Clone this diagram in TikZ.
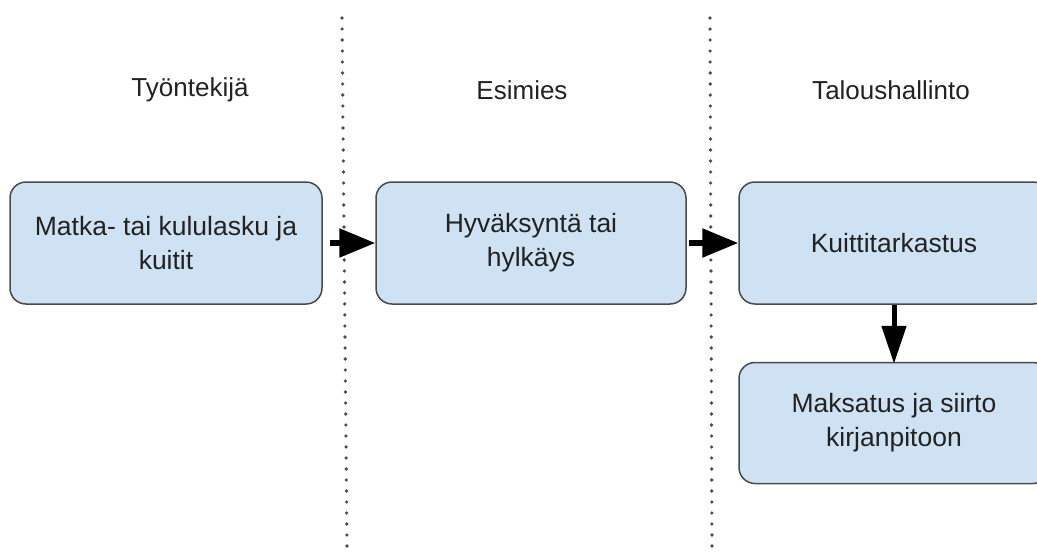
\documentclass[tikz,border=0pt]{standalone}
\usepackage{fontspec}
\setmainfont{Liberation Sans}
\usetikzlibrary{arrows.meta}
\definecolor{boxfill}{HTML}{CFE2F3}
\definecolor{boxline}{HTML}{4A4A4A}
\definecolor{txt}{HTML}{222222}
\begin{document}
\begin{tikzpicture}[x=1pt,y=-1pt,
  proc/.style={draw=boxline,line width=1.5pt,fill=boxfill,rounded corners=16pt,
    minimum width=#1,minimum height=122pt,align=center,text=txt,
    font=\fontsize{26.5}{34}\selectfont,inner sep=0pt},
  proc/.default=312pt,
  head/.style={font=\fontsize{26}{34}\selectfont,text=txt},
  lane/.style={line width=3.6pt,dash pattern=on 0pt off 11pt,line cap=round,draw=black!70},
  flow/.style={line width=5.5pt,-{Triangle[length=36pt,width=28pt]}},
  vflow/.style={line width=5pt,-{Triangle[length=38pt,width=24pt]}}]
\useasboundingbox (0,0) rectangle (1037,555);
\coordinate (l1t) at (342,18); \coordinate (l1b) at (347,548);
\coordinate (l2t) at (710,18); \coordinate (l2b) at (712,548);
\draw[lane] (l1t) -- (l1b);
\draw[lane] (l2t) -- (l2b);
\node[head] (h1) at (190,90) {Työntekijä};
\node[head] (h2) at (522,90) {Esimies};
\node[head] (h3) at (891,90) {Taloushallinto};
\node[proc] (b1) at (166,243) {Matka- tai kululasku ja\\kuitit};
\node[proc=310pt] (b2) at (531,243) {Hyväksyntä tai\\hylkäys};
\node[proc=310pt] (b3) at (894,243) {Kuittitarkastus};
\node[proc=310pt,minimum height=121pt] (b4) at (894,423) {Maksatus ja siirto\\kirjanpitoon};
\draw[flow] ([xshift=7pt]b1.east) -- (b2.west);
\draw[flow] ([xshift=2pt]b2.east) -- (b3.west);
\draw[vflow] (b3.south) -- ([yshift=-2pt]b4.north);
\end{tikzpicture}
\end{document}
